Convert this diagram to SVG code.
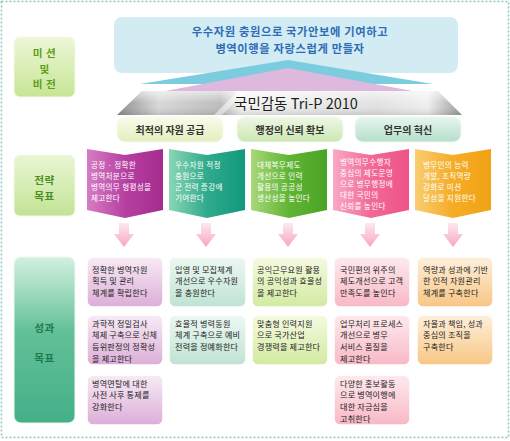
<svg xmlns="http://www.w3.org/2000/svg" width="510" height="441" viewBox="0 0 510 441">
<defs>
<style>
text{font-family:"Noto Sans CJK KR","Noto Sans",sans-serif}
.lbl{font-size:10.6px;font-weight:bold;text-anchor:middle;letter-spacing:0.5px}
.st{font-size:7.6px;fill:#fff;letter-spacing:0.3px}
.oc{font-size:8.1px;fill:#222;letter-spacing:0.2px}
.pill{font-size:10px;font-weight:bold;fill:#333;text-anchor:middle}
.ob{stroke:#fff;stroke-width:1.5}
.vis{font-size:11.3px;font-weight:bold;fill:#2e6db6;text-anchor:middle;letter-spacing:0.6px}
</style>
<linearGradient id="gMis" x1="0" y1="0" x2="0" y2="1"><stop offset="0" stop-color="#eef7d8"/><stop offset="1" stop-color="#c6e595"/></linearGradient>
<linearGradient id="gStr" x1="0" y1="0" x2="0" y2="1"><stop offset="0" stop-color="#eaf6d4"/><stop offset="1" stop-color="#c2e395"/></linearGradient>
<linearGradient id="gPer" x1="0" y1="0" x2="0" y2="1"><stop offset="0" stop-color="#d4f0e0"/><stop offset="0.45" stop-color="#62c098"/><stop offset="1" stop-color="#44b088"/></linearGradient>
<linearGradient id="gSil" x1="0" y1="0" x2="1" y2="0"><stop offset="0" stop-color="#8e8e8e"/><stop offset="0.12" stop-color="#d8d8d8"/><stop offset="0.3" stop-color="#bdbdbd"/><stop offset="0.36" stop-color="#f4f4f4"/><stop offset="0.75" stop-color="#e2e2e2"/><stop offset="0.9" stop-color="#f0f0f0"/><stop offset="1" stop-color="#9a9a9a"/></linearGradient>
<linearGradient id="gSilV" x1="0" y1="0" x2="0" y2="1"><stop offset="0" stop-color="#fff" stop-opacity="0.6"/><stop offset="0.5" stop-color="#fff" stop-opacity="0"/><stop offset="1" stop-color="#000" stop-opacity="0.12"/></linearGradient>
<linearGradient id="gP1" x1="0" y1="0" x2="0" y2="1"><stop offset="0" stop-color="#f8fbea"/><stop offset="1" stop-color="#e2efbe"/></linearGradient>
<linearGradient id="gP2" x1="0" y1="0" x2="0" y2="1"><stop offset="0" stop-color="#eef7e4"/><stop offset="1" stop-color="#cbe7b2"/></linearGradient>
<linearGradient id="gP3" x1="0" y1="0" x2="0" y2="1"><stop offset="0" stop-color="#e6f5ee"/><stop offset="1" stop-color="#b6dfca"/></linearGradient>
<linearGradient id="gS1" x1="0" y1="0" x2="1" y2="0"><stop offset="0" stop-color="#d67cc4"/><stop offset="0.5" stop-color="#b640a2"/><stop offset="1" stop-color="#a42c8e"/></linearGradient>
<linearGradient id="gS2" x1="0" y1="0" x2="1" y2="0"><stop offset="0" stop-color="#8ad6b6"/><stop offset="0.5" stop-color="#30aa8c"/><stop offset="1" stop-color="#12987e"/></linearGradient>
<linearGradient id="gS3" x1="0" y1="0" x2="1" y2="0"><stop offset="0" stop-color="#a8d878"/><stop offset="0.5" stop-color="#60b434"/><stop offset="1" stop-color="#4aa424"/></linearGradient>
<linearGradient id="gS4" x1="0" y1="0" x2="1" y2="0"><stop offset="0" stop-color="#f9a8c6"/><stop offset="0.5" stop-color="#f26896"/><stop offset="1" stop-color="#ee5488"/></linearGradient>
<linearGradient id="gS5" x1="0" y1="0" x2="1" y2="0"><stop offset="0" stop-color="#f9cd70"/><stop offset="0.5" stop-color="#f5ac26"/><stop offset="1" stop-color="#f1a214"/></linearGradient>
<linearGradient id="gArr" x1="0" y1="0" x2="0" y2="1"><stop offset="0" stop-color="#fde8ef"/><stop offset="1" stop-color="#f7a6c0"/></linearGradient>
<linearGradient id="gO1" x1="0" y1="0" x2="0" y2="1"><stop offset="0" stop-color="#f8ebf5"/><stop offset="1" stop-color="#dcaed8"/></linearGradient>
<linearGradient id="gO2" x1="0" y1="0" x2="0" y2="1"><stop offset="0" stop-color="#eef8f3"/><stop offset="1" stop-color="#bfe3d3"/></linearGradient>
<linearGradient id="gO3" x1="0" y1="0" x2="0" y2="1"><stop offset="0" stop-color="#f6fae2"/><stop offset="1" stop-color="#d2eaa0"/></linearGradient>
<linearGradient id="gO4" x1="0" y1="0" x2="0" y2="1"><stop offset="0" stop-color="#feeaee"/><stop offset="1" stop-color="#f8b8c6"/></linearGradient>
<linearGradient id="gO5" x1="0" y1="0" x2="0" y2="1"><stop offset="0" stop-color="#fef0dc"/><stop offset="1" stop-color="#f8c684"/></linearGradient>
</defs>
<rect width="510" height="441" fill="#fff"/>
<rect x="1.5" y="1.5" width="507" height="436" fill="none" stroke="#8ec9c2" stroke-width="1.6" stroke-dasharray="2,2"/>

<g id="mission-label">
<rect x="14" y="37" width="61" height="60" rx="6" fill="url(#gMis)" stroke="#f4f9ea" stroke-width="1"/>
<text class="lbl" fill="#5c9e1c" x="44.5" y="57">미 션</text>
<text class="lbl" fill="#5c9e1c" x="44.5" y="72.5">및</text>
<text class="lbl" fill="#5c9e1c" x="44.5" y="88">비 전</text>
</g>

<g id="vision">
<rect x="114" y="17" width="344" height="56" rx="8" fill="#d3ecf4"/>
<text class="vis" x="290" y="36">우수자원 충원으로 국가안보에 기여하고</text>
<text class="vis" x="290" y="52.5">병역이행을 자랑스럽게 만들자</text>
<polygon points="288,60 433,84 140,84" fill="#7ccce0"/>
<polygon points="288,68 418,92 160,92" fill="#dcb9dd"/>
</g>

<g id="tri-p">
<polygon points="142,91 438,91 462,115 117,115" fill="url(#gSil)"/>
<polygon points="142,91 438,91 462,115 117,115" fill="url(#gSilV)"/>
<polygon points="214,115 238,91 246,91 222,115" fill="#fff" opacity="0.5"/>
<text x="296" y="109" font-size="14.5" fill="#1e1e1e" text-anchor="middle">국민감동 Tri-P 2010</text>
</g>

<g id="pillar-1">
<rect x="117" y="117" width="106" height="25" rx="8" fill="url(#gP1)" stroke="#f6f9ee" stroke-width="1"/>
<text class="pill" x="170" y="134">최적의 자원 공급</text>
</g>
<g id="pillar-2">
<rect x="237" y="117" width="106" height="25" rx="8" fill="url(#gP2)" stroke="#f2f8ee" stroke-width="1"/>
<text class="pill" x="290" y="134">행정의 신뢰 확보</text>
</g>
<g id="pillar-3">
<rect x="355" y="117" width="106" height="25" rx="8" fill="url(#gP3)" stroke="#eef8f3" stroke-width="1"/>
<text class="pill" x="408" y="134">업무의 혁신</text>
</g>

<g id="strategy-label">
<rect x="14" y="155" width="61" height="61" rx="6" fill="url(#gStr)" stroke="#f2f9ea" stroke-width="1"/>
<text class="lbl" fill="#4a901e" x="44.5" y="184">전략</text>
<text class="lbl" fill="#4a901e" x="44.5" y="200">목표</text>
</g>

<g id="strategy-1">
<polygon points="87,149 125,155 163,149 163,210 125,218 87,210" fill="url(#gS1)"/>
<text class="st" x="91" y="168">공정 · 정확한<tspan x="91" dy="11">병역처분으로</tspan><tspan x="91" dy="11">병역의무 형평성을</tspan><tspan x="91" dy="11">제고한다</tspan></text>
</g>
<g id="strategy-2">
<polygon points="169,149 207,155 245,149 245,210 207,218 169,210" fill="url(#gS2)"/>
<text class="st" x="175" y="168">우수자원 적정<tspan x="175" dy="11">충원으로</tspan><tspan x="175" dy="11">군 전력 증강에</tspan><tspan x="175" dy="11">기여한다</tspan></text>
</g>
<g id="strategy-3">
<polygon points="251,149 289,155 327,149 327,210 289,218 251,210" fill="url(#gS3)"/>
<text class="st" x="257" y="168">대체복무제도<tspan x="257" dy="11">개선으로 인력</tspan><tspan x="257" dy="11">활용의 공공성</tspan><tspan x="257" dy="11">생산성을 높인다</tspan></text>
</g>
<g id="strategy-4">
<polygon points="333,149 371,155 409,149 409,210 371,218 333,210" fill="url(#gS4)"/>
<text class="st" x="340" y="165">병역의무수행자<tspan x="340" dy="11">중심의 제도운영</tspan><tspan x="340" dy="11">으로 병무행정에</tspan><tspan x="340" dy="11">대한 국민의</tspan><tspan x="340" dy="11">신뢰를 높인다</tspan></text>
</g>
<g id="strategy-5">
<polygon points="415,149 453,155 491,149 491,210 453,218 415,210" fill="url(#gS5)"/>
<text class="st" x="423" y="168">병무인의 능력<tspan x="423" dy="11">개발, 조직역량</tspan><tspan x="423" dy="11">강화로 미션</tspan><tspan x="423" dy="11">달성을 지원한다</tspan></text>
</g>

<g id="connectors">
<path d="M119,223 h10 v11 h5 l-10,13 l-10,-13 h5 z" fill="url(#gArr)"/>
<path d="M201,223 h10 v11 h5 l-10,13 l-10,-13 h5 z" fill="url(#gArr)"/>
<path d="M283,223 h10 v11 h5 l-10,13 l-10,-13 h5 z" fill="url(#gArr)"/>
<path d="M365,223 h10 v11 h5 l-10,13 l-10,-13 h5 z" fill="url(#gArr)"/>
<path d="M448,223 h10 v11 h5 l-10,13 l-10,-13 h5 z" fill="url(#gArr)"/>
</g>

<g id="performance-label">
<rect x="14" y="257" width="61" height="166" rx="7" fill="url(#gPer)" stroke="#eef8f2" stroke-width="1"/>
<text class="lbl" fill="#1c7a4c" x="44.5" y="332">성과</text>
<text class="lbl" fill="#1c7a4c" x="44.5" y="362">목표</text>
</g>

<g id="outcome-1a">
<rect class="ob" x="87" y="257" width="76" height="50" rx="6" fill="url(#gO1)"/>
<text class="oc" x="92" y="272.5">정확한 병역자원<tspan x="92" dy="11.8">획득 및 관리</tspan><tspan x="92" dy="11.8">체계를 확립한다</tspan></text>
</g>
<g id="outcome-1b">
<rect class="ob" x="87" y="315" width="76" height="50" rx="6" fill="url(#gO1)"/>
<text class="oc" x="92" y="326.5">과학적 정밀검사<tspan x="92" dy="11.8">체제 구축으로 신체</tspan><tspan x="92" dy="11.8">등위판정의 정확성</tspan><tspan x="92" dy="11.8">을 제고한다</tspan></text>
</g>
<g id="outcome-1c">
<rect class="ob" x="87" y="375" width="76" height="50" rx="6" fill="url(#gO1)"/>
<text class="oc" x="92" y="386.5">병역면탈에 대한<tspan x="92" dy="11.8">사전 사후 통제를</tspan><tspan x="92" dy="11.8">강화한다</tspan></text>
</g>
<g id="outcome-2a">
<rect class="ob" x="169" y="257" width="77" height="50" rx="6" fill="url(#gO2)"/>
<text class="oc" x="175" y="272.5">입영 및 모집체계<tspan x="175" dy="11.8">개선으로 우수자원</tspan><tspan x="175" dy="11.8">을 충원한다</tspan></text>
</g>
<g id="outcome-2b">
<rect class="ob" x="169" y="315" width="77" height="50" rx="6" fill="url(#gO2)"/>
<text class="oc" x="175" y="326.5">효율적 병력동원<tspan x="175" dy="11.8">체계 구축으로 예비</tspan><tspan x="175" dy="11.8">전력을 정예화한다</tspan></text>
</g>
<g id="outcome-3a">
<rect class="ob" x="252" y="257" width="76" height="50" rx="6" fill="url(#gO3)"/>
<text class="oc" x="257" y="272.5">공익근무요원 활용<tspan x="257" dy="11.8">의 공익성과 효율성</tspan><tspan x="257" dy="11.8">을 제고한다</tspan></text>
</g>
<g id="outcome-3b">
<rect class="ob" x="252" y="315" width="76" height="50" rx="6" fill="url(#gO3)"/>
<text class="oc" x="257" y="326.5">맞춤형 인력지원<tspan x="257" dy="11.8">으로 국가산업</tspan><tspan x="257" dy="11.8">경쟁력을 제고한다</tspan></text>
</g>
<g id="outcome-4a">
<rect class="ob" x="334" y="257" width="76" height="50" rx="6" fill="url(#gO4)"/>
<text class="oc" x="340" y="272.5">국민편의 위주의<tspan x="340" dy="11.8">제도개선으로 고객</tspan><tspan x="340" dy="11.8">만족도를 높인다</tspan></text>
</g>
<g id="outcome-4b">
<rect class="ob" x="334" y="315" width="76" height="50" rx="6" fill="url(#gO4)"/>
<text class="oc" x="340" y="326.5">업무처리 프로세스<tspan x="340" dy="11.8">개선으로 병무</tspan><tspan x="340" dy="11.8">서비스 품질을</tspan><tspan x="340" dy="11.8">제고한다</tspan></text>
</g>
<g id="outcome-4c">
<rect class="ob" x="334" y="375" width="76" height="50" rx="6" fill="url(#gO4)"/>
<text class="oc" x="340" y="386.5">다양한 홍보활동<tspan x="340" dy="11.8">으로 병역이행에</tspan><tspan x="340" dy="11.8">대한 자긍심을</tspan><tspan x="340" dy="11.8">고취한다</tspan></text>
</g>
<g id="outcome-5a">
<rect class="ob" x="417" y="257" width="76" height="50" rx="6" fill="url(#gO5)"/>
<text class="oc" x="423" y="272.5">역량과 성과에 기반<tspan x="423" dy="11.8">한 인적 자원관리</tspan><tspan x="423" dy="11.8">체계를 구축한다</tspan></text>
</g>
<g id="outcome-5b">
<rect class="ob" x="417" y="315" width="76" height="50" rx="6" fill="url(#gO5)"/>
<text class="oc" x="423" y="326.5">자율과 책임, 성과<tspan x="423" dy="11.8">중심의 조직을</tspan><tspan x="423" dy="11.8">구축한다</tspan></text>
</g>
</svg>
